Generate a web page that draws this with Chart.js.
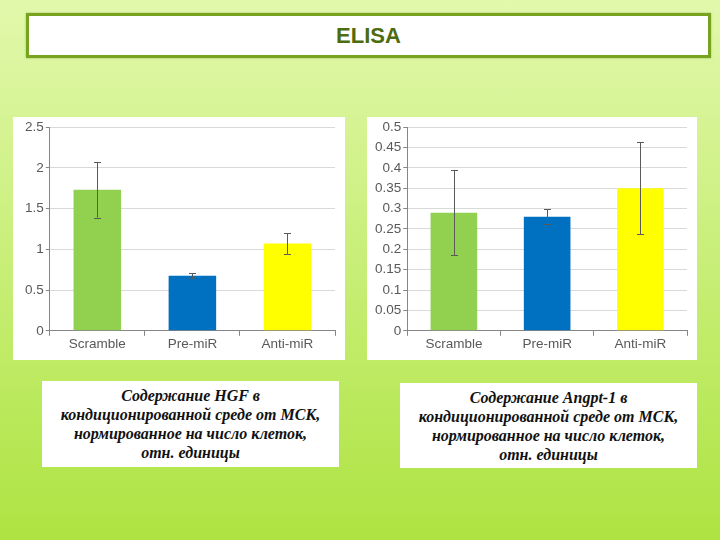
<!DOCTYPE html>
<html>
<head>
<meta charset="utf-8">
<script src="https://cdn.jsdelivr.net/npm/chart.js@4"></script>
<style>
  html, body { margin:0; padding:0; }
  body { width:720px; height:540px; position:relative; overflow:hidden;
    background: linear-gradient(180deg, #e2f8ac 0%, #d2f28c 30%, #bfeb66 65%, #aee342 100%); }
  #titleBox { position:absolute; left:26px; top:13px; width:679px; height:39px;
    border:3px solid #77a31f; background:#fff; box-shadow:0 0 2px rgba(80,110,20,0.4);
    display:flex; align-items:center; justify-content:center;
    font-family:"Liberation Sans", Arial, sans-serif; font-weight:bold; font-size:22px; color:#4c6c0f; }
  .panel { position:absolute; background:#fff; }
  .caption { position:absolute; background:#fff; display:flex; align-items:center; justify-content:center;
    text-align:center; font-family:"Liberation Serif", "Times New Roman", serif; font-weight:bold; font-style:italic;
    font-size:16px; line-height:19px; color:#111; }
</style>
</head>
<body>
<div id="titleBox">ELISA</div>
<div class="panel" style="left:13px; top:117px; width:332px; height:243px;"><canvas id="c1" width="332" height="243"></canvas></div>
<div class="panel" style="left:367px; top:117px; width:330px; height:243px;"><canvas id="c2" width="330" height="243"></canvas></div>
<div class="caption" style="left:42px; top:381px; width:297px; height:86px;">
  <div>Содержание HGF в<br>кондиционированной среде от МСК,<br>нормированное на число клеток,<br>отн. единицы</div>
</div>
<div class="caption" style="left:400px; top:383px; width:297px; height:85px;">
  <div>Содержание Angpt-1 в<br>кондиционированной среде от МСК,<br>нормированное на число клеток,<br>отн. единицы</div>
</div>
<script>
const categories = ['Scramble', 'Pre-miR', 'Anti-miR'];
const barColors = ['#92d050', '#0070c0', '#ffff00'];

const hgfValues = [1.73, 0.675, 1.07];
const hgfErrors = [0.34, 0.03, 0.13];
const hgfTicks = [0, 0.5, 1, 1.5, 2, 2.5];

const angptValues = [0.29, 0.28, 0.35];
const angptErrors = [0.105, 0.018, 0.113];
const angptTicks = [0, 0.05, 0.1, 0.15, 0.2, 0.25, 0.3, 0.35, 0.4, 0.45, 0.5];

const errorBarPlugin = {
  id: 'errorBars',
  afterDatasetsDraw(chart, args, opts) {
    const ctx = chart.ctx;
    const yScale = chart.scales.y;
    chart.data.datasets.forEach((ds, di) => {
      const meta = chart.getDatasetMeta(di);
      meta.data.forEach((el, i) => {
        const v = ds.data[i], e = ds.errors[i];
        const x = el.x;
        const yTop = yScale.getPixelForValue(v + e);
        const yBot = yScale.getPixelForValue(v - e);
        ctx.save();
        ctx.strokeStyle = '#5a5a5a';
        ctx.lineWidth = 1;
        ctx.beginPath();
        ctx.moveTo(Math.round(x) + 0.5, yTop);
        ctx.lineTo(Math.round(x) + 0.5, yBot);
        ctx.moveTo(Math.round(x) - 3, Math.round(yTop) + 0.5);
        ctx.lineTo(Math.round(x) + 4, Math.round(yTop) + 0.5);
        ctx.moveTo(Math.round(x) - 3, Math.round(yBot) + 0.5);
        ctx.lineTo(Math.round(x) + 4, Math.round(yBot) + 0.5);
        ctx.stroke();
        ctx.restore();
      });
    });
  }
};

function makeChart(id, values, errors, ticks, pad) {
  const maxV = ticks[ticks.length - 1];
  return new Chart(document.getElementById(id), {
    type: 'bar',
    data: {
      labels: categories,
      datasets: [{ data: values, errors: errors, backgroundColor: barColors, borderWidth: 0 }]
    },
    options: {
      responsive: false,
      animation: false,
      devicePixelRatio: 1,
      layout: { padding: pad },
      plugins: { legend: { display: false }, tooltip: { enabled: false } },
      datasets: { bar: { categoryPercentage: 1.0, barPercentage: 0.5 } },
      scales: {
        x: {
          grid: { display: true, drawOnChartArea: false, drawTicks: true, tickLength: 5, color: '#868686', offset: true },
          border: { display: true, color: '#868686', width: 1 },
          ticks: { color: '#595959', font: { family: 'Liberation Sans', size: 13.5 }, padding: 0 }
        },
        y: {
          min: 0, max: maxV,
          afterBuildTicks: axis => { axis.ticks = ticks.map(v => ({ value: v })); },
          grid: { color: '#d9d9d9', tickColor: '#868686', tickLength: 4, drawTicks: true },
          border: { display: true, color: '#868686', width: 1 },
          ticks: { color: '#595959', font: { family: 'Liberation Sans', size: 13.5 }, padding: 2,
            callback: (value) => String(+Number(value).toFixed(2)) }
        }
      }
    },
    plugins: [errorBarPlugin]
  });
}

makeChart('c1', hgfValues, hgfErrors, hgfTicks, { left: 10, right: 10, top: 9, bottom: 8 });
makeChart('c2', angptValues, angptErrors, angptTicks, { left: 6, right: 10, top: 9, bottom: 8 });
</script>
</body>
</html>
